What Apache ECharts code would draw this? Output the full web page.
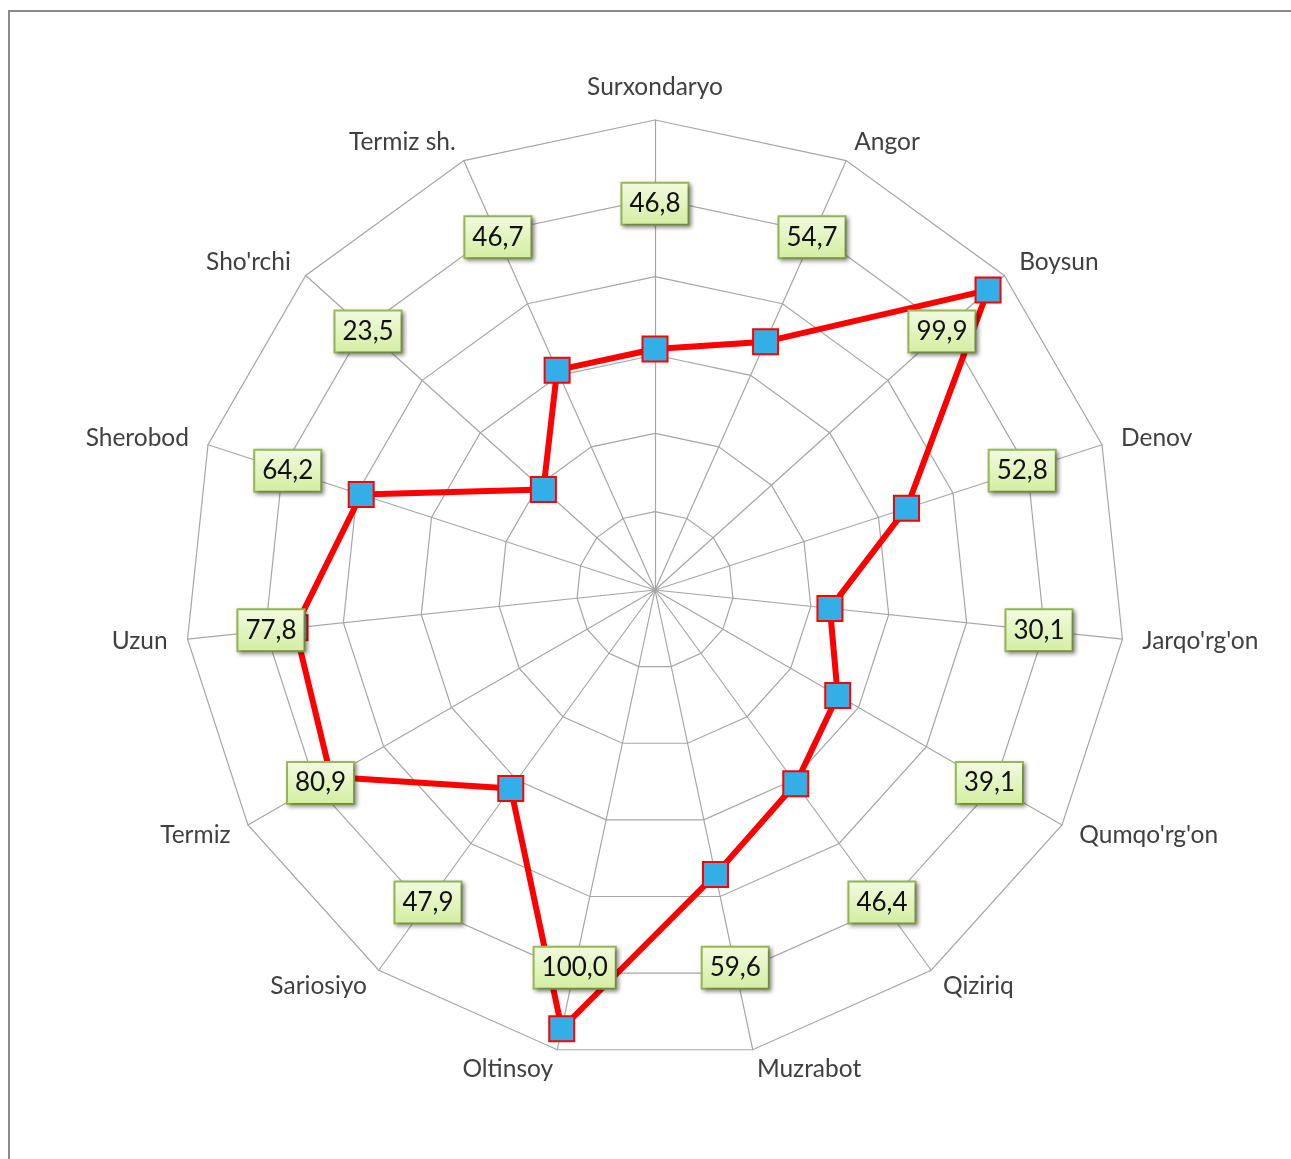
<!DOCTYPE html>
<html>
<head>
<meta charset="utf-8">
<script src="https://cdn.jsdelivr.net/npm/echarts@6/dist/echarts.min.js"></script>
<style>
html,body{margin:0;padding:0;background:#fff;}
#c{width:1291px;height:1159px;}
</style>
</head>
<body>
<div id="c"></div>
<script>
// Categories, clockwise from the top (as in the reference)
const categories = ["Surxondaryo","Angor","Boysun","Denov","Jarqo'rg'on","Qumqo'rg'on","Qiziriq","Muzrabot","Oltinsoy","Sariosiyo","Termiz","Uzun","Sherobod","Sho'rchi","Termiz sh."];
const values = [46.8, 54.7, 99.9, 52.8, 30.1, 39.1, 46.4, 59.6, 100.0, 47.9, 80.9, 77.8, 64.2, 23.5, 46.7];
const axisMin = -15;
const axisMax = 105.5;
const labelRing = 84; // radius (in axis units) where the value boxes sit

// ECharts lays radar indicators counter-clockwise; reorder to get clockwise
const order = [0].concat(categories.map((_, i) => i).slice(1).reverse());
const dispCats = order.map(i => categories[i]);
const dispVals = order.map(i => values[i]);

const fmt = v => v.toFixed(1).replace('.', ',');

const chart = echarts.init(document.getElementById('c'));
chart.setOption({
  backgroundColor: '#ffffff',
  animation: false,
  graphic: [{
    type: 'rect',
    shape: {x: 9, y: 11, width: 1300, height: 1200},
    style: {fill: 'none', stroke: '#8a8a8a', lineWidth: 2},
    z: 0
  }],
  radar: {
    center: [655, 590],
    radius: 470,
    startAngle: 90,
    splitNumber: 6,
    shape: 'polygon',
    nameGap: 20,
    indicator: dispCats.map(n => ({name: n, min: axisMin, max: axisMax})),
    axisName: {color: '#404040', fontSize: 24.5, fontFamily: 'Lato'},
    axisLine: {lineStyle: {color: '#a6a6a6', width: 1.2}},
    splitLine: {lineStyle: {color: '#a6a6a6', width: 1.2}},
    splitArea: {show: false},
    axisTick: {show: false},
    axisLabel: {show: false}
  },
  series: [{
    type: 'radar',
    symbol: 'rect',
    symbolSize: 25,
    lineStyle: {color: '#ff0000', width: 6},
    itemStyle: {color: '#33aee6', borderColor: '#ff0000', borderWidth: 2},
    data: [{value: dispVals}],
    z: 2
  }, {
    type: 'radar',
    symbol: 'circle',
    symbolSize: 1,
    lineStyle: {width: 0, opacity: 0},
    itemStyle: {color: 'transparent', borderWidth: 0},
    data: [{value: dispCats.map(() => labelRing)}],
    label: {
      show: true,
      position: 'inside',
      formatter: p => fmt(dispVals[p.dimensionIndex]),
      fontSize: 26,
      fontFamily: 'Lato',
      color: '#111',
      padding: [8, 7, 6, 7],
      borderColor: '#9bbb59',
      borderWidth: 2,
      backgroundColor: new echarts.graphic.LinearGradient(0, 0, 0, 1, [
        {offset: 0, color: '#f3fbe0'},
        {offset: 1, color: '#d3eda0'}
      ]),
      shadowColor: 'rgba(0,0,0,0.35)',
      shadowBlur: 4,
      shadowOffsetX: 2,
      shadowOffsetY: 2
    },
    z: 3
  }]
});
</script>
</body>
</html>
